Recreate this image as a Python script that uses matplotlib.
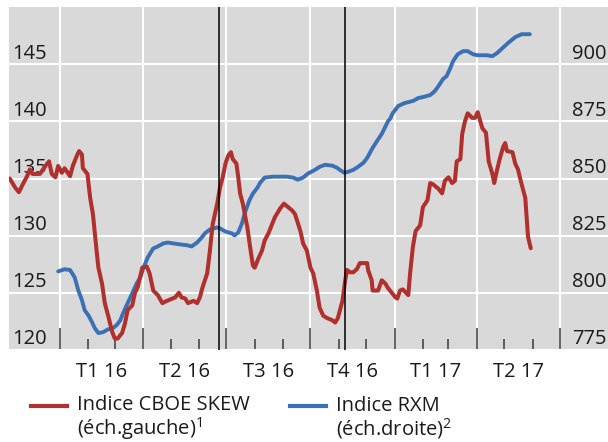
import numpy as np
import matplotlib
matplotlib.use('Agg')
import matplotlib.pyplot as plt
import matplotlib.transforms as mtransforms
from matplotlib.lines import Line2D

plt.rcParams['font.family'] = ['Open Sans', 'DejaVu Sans']
plt.rcParams['mathtext.fontset'] = 'custom'
plt.rcParams['mathtext.rm'] = 'Open Sans'

# ---------------- data (days since 2016-01-01) ----------------
base = np.datetime64('2016-01-01')

skew_day = [-55, -49, -45, -40, -36, -33, -30, -22, -16, -12,
            -9, -5, -2, 2, 5, 11, 14, 19, 21, 24,
            25, 30, 33, 36, 40, 42, 46, 49, 53, 57,
            60, 63, 68, 71, 74, 79, 82, 85, 90, 95,
            98, 102, 107, 112, 117, 123, 126, 130, 133, 137,
            140, 146, 150, 153, 156, 161, 164, 167, 172, 175,
            178, 181, 184, 187, 189, 193, 195, 197, 200, 205,
            208, 211, 213, 217, 221, 224, 228, 232, 235, 241,
            245, 248, 254, 257, 263, 266, 270, 274, 277, 281,
            284, 288, 292, 298, 301, 304, 309, 312, 314, 317,
            321, 325, 328, 332, 336, 337, 341, 342, 348, 352,
            356, 359, 363, 367, 369, 372, 375, 381, 383, 386,
            389, 394, 397, 402, 405, 408, 414, 418, 421, 425,
            429, 432, 434, 438, 440, 443, 446, 451, 454, 457,
            462, 466, 469, 473, 475, 478, 481, 485, 487, 489,
            495, 498, 501, 505, 509, 512, 515]
skew_val = [135.0, 134.2, 133.8, 134.6, 135.2, 135.8, 135.4, 135.4, 136.1, 136.5,
            135.4, 135.1, 136.1, 135.5, 135.9, 135.2, 136.1, 137.1, 137.4, 137.1,
            135.9, 135.4, 133.3, 131.9, 128.7, 127.2, 125.8, 124.1, 122.9, 121.6,
            121.0, 121.0, 121.5, 122.3, 123.5, 123.9, 125.0, 125.5, 127.2, 127.3,
            126.7, 125.2, 124.8, 124.1, 124.3, 124.5, 124.6, 125.0, 124.6, 124.5,
            124.1, 124.3, 124.1, 124.6, 125.5, 126.7, 128.7, 131.0, 132.8, 134.2,
            135.1, 136.3, 137.0, 137.3, 136.7, 136.3, 135.1, 133.7, 132.8, 130.7,
            129.0, 127.4, 127.2, 128.0, 128.7, 129.6, 130.2, 131.0, 131.6, 132.4,
            132.8, 132.6, 132.2, 131.9, 130.4, 129.3, 128.7, 127.2, 126.7, 125.2,
            123.7, 123.0, 122.8, 122.6, 122.4, 122.8, 124.3, 126.1, 127.0, 126.8,
            126.8, 127.1, 127.6, 127.6, 127.6, 127.0, 126.1, 125.2, 125.2, 126.1,
            125.8, 125.4, 125.0, 124.6, 124.5, 125.2, 125.3, 124.8, 126.7, 129.0,
            130.4, 130.9, 132.5, 133.1, 134.6, 134.5, 134.1, 133.7, 134.8, 135.1,
            134.6, 134.8, 136.5, 136.7, 138.9, 140.0, 140.7, 140.3, 140.3, 140.8,
            139.4, 139.0, 136.5, 135.4, 134.6, 135.7, 136.7, 137.8, 138.1, 137.4,
            137.3, 136.3, 135.8, 134.5, 133.3, 129.9, 128.9]

rxm_day = [-2, 5, 11, 16, 20, 24, 27, 31, 35, 38,
           42, 47, 53, 58, 62, 66, 69, 74, 79, 84,
           88, 91, 96, 102, 107, 113, 118, 124, 131, 139,
           144, 150, 155, 159, 164, 172, 175, 181, 188, 191,
           195, 199, 202, 207, 211, 216, 219, 224, 233, 248,
           255, 260, 266, 271, 279, 284, 290, 298, 303, 306,
           311, 315, 321, 326, 332, 336, 339, 342, 347, 352,
           359, 361, 364, 370, 377, 386, 392, 397, 405, 410,
           414, 419, 423, 427, 430, 435, 441, 446, 452, 457,
           467, 473, 478, 484, 490, 498, 505, 514]
rxm_val = [809.4, 810.3, 810.0, 806.8, 801.1, 796.8, 792.4, 790.2, 787.2, 784.6,
           782.4, 782.8, 784.1, 784.6, 785.9, 788.0, 791.1, 795.5, 799.8, 804.2,
           806.8, 810.7, 815.5, 819.4, 820.3, 821.6, 822.0, 821.6, 821.2, 820.8,
           820.3, 822.0, 824.2, 826.2, 827.7, 828.6, 828.2, 826.8, 826.0, 825.1,
           826.4, 830.3, 834.7, 840.3, 843.4, 846.0, 848.2, 850.4, 850.8, 850.8,
           850.4, 849.5, 850.4, 852.1, 853.8, 855.1, 856.0, 855.6, 854.7, 853.8,
           852.5, 852.9, 853.8, 855.1, 856.9, 859.0, 861.2, 863.4, 866.5, 869.5,
           875.2, 876.0, 878.6, 881.7, 883.0, 883.9, 885.2, 885.6, 886.5, 888.2,
           890.4, 893.5, 894.8, 898.3, 901.3, 904.3, 905.7, 905.7, 904.3, 903.9,
           903.9, 903.5, 904.8, 907.0, 909.2, 911.8, 913.1, 913.1]

quarter_labels = ['T1 16', 'T2 16', 'T3 16', 'T4 16', 'T1 17', 'T2 17']
quarter_starts = ['2016-01-01', '2016-04-01', '2016-07-01', '2016-10-01',
                  '2017-01-01', '2017-04-01', '2017-07-01']
event_dates = ['2016-06-23', '2016-11-08']
left_ticks = [120, 125, 130, 135, 140, 145]
right_ticks = [775, 800, 825, 850, 875, 900]
legend_names = ['Indice CBOE SKEW', 'Indice RXM']
legend_scales = ['(éch.gauche)', '(éch.droite)']
legend_notes = ['1', '2']

assert len(skew_day) == len(skew_val) and len(rxm_day) == len(rxm_val)

def to_days(s):
    return int((np.datetime64(s) - base).astype(int))

q_days = [to_days(s) for s in quarter_starts]
months = np.arange('2016-01', '2017-08', dtype='datetime64[M]').astype('datetime64[D]')
m_days = [(m - base).astype(int) for m in months]
ev_days = [to_days(s) for s in event_dates]

RED = '#b0302d'
BLUE = '#3b6fb6'
GRAY = '#d9d9d9'
TXT = '#1a1a1a'
FS = 14.5

W, H = 608, 442
fig = plt.figure(figsize=(W / 100, H / 100), dpi=100)
ax = fig.add_axes([9 / W, 92 / H, 599 / W, 343 / H])
ax.set_facecolor(GRAY)
for s in ax.spines.values():
    s.set_visible(False)
ax.set_xlim(-55.8, 599.5)
ax.set_ylim(120, 150)
ax.set_xticks(q_days)
ax.set_xticks(m_days, minor=True)
ax.set_yticks(left_ticks)
ax.tick_params(axis='x', which='major', direction='in', length=16, width=1.1,
               color='#3a3a3a', labelbottom=False)
ax.tick_params(axis='x', which='minor', direction='in', length=8, width=1.1,
               color='#3a3a3a', labelbottom=False)
ax.tick_params(axis='y', length=0, labelleft=False)
ax.grid(axis='x', which='major', color='white', lw=1.5)
ax.grid(axis='y', which='major', color='white', lw=1.5)
ax.set_axisbelow(True)

ax2 = ax.twinx()
ax2.set_ylim(775, 925)
ax2.set_yticks([])
for s in ax2.spines.values():
    s.set_visible(False)
ax2.plot(rxm_day, rxm_val, color=BLUE, lw=2.8, solid_capstyle='round', zorder=3)

ax3 = ax.twinx()
ax3.set_ylim(120, 150)
ax3.set_yticks([])
for s in ax3.spines.values():
    s.set_visible(False)
ax3.plot(skew_day, skew_val, color=RED, lw=2.9, solid_capstyle='round', zorder=3)
for d in ev_days:
    ax3.axvline(d, color='black', lw=1.1, zorder=4)
ax3.set_xlim(-55.8, 599.5)

# y tick labels inside the plot
tl = mtransforms.blended_transform_factory(ax.transAxes, ax.transData)
tl = mtransforms.offset_copy(tl, fig=fig, x=0, y=5.5, units='dots')
for v in left_ticks:
    ax.text(3 / 599, v, str(v), transform=tl, ha='left', va='baseline',
            fontsize=FS, color=TXT)
tr = mtransforms.blended_transform_factory(ax2.transAxes, ax2.transData)
tr = mtransforms.offset_copy(tr, fig=fig, x=0, y=5.5, units='dots')
for v in right_ticks:
    ax2.text(598 / 599, v, str(v), transform=tr, ha='right', va='baseline',
             fontsize=FS, color=TXT)

# x labels at mid-quarter
tx = mtransforms.blended_transform_factory(ax.transData, ax.transAxes)
for i, lab in enumerate(quarter_labels):
    mid = (q_days[i] + q_days[i + 1]) / 2
    ax.text(mid, (350 - 377) / 343, lab, transform=tx, ha='center', va='baseline',
            fontsize=FS, color=TXT, clip_on=False)

# legend
def fx(px):
    return px / W

def fy(py):
    return 1 - py / H

for name, scale, note, col, x0 in zip(legend_names, legend_scales, legend_notes,
                                      [RED, BLUE], [31, 290]):
    fig.add_artist(Line2D([fx(x0), fx(x0 + 36)], [fy(406), fy(406)], color=col,
                          lw=3.0, transform=fig.transFigure))
    label = name + '\n' + scale + r'$^{\mathregular{' + note + '}}$'
    fig.text(fx(x0 + 46), fy(435), label, fontsize=FS, color=TXT,
             va='baseline', ha='left', linespacing=1.0)

fig.savefig('out.png', dpi=100)
